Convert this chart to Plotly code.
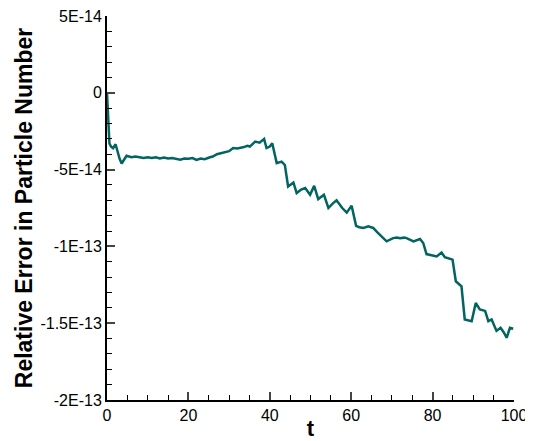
import plotly.graph_objects as go

t = [0, 0.3, 0.6, 1.0, 1.5, 2.1, 2.6, 3.1, 3.6, 4.2, 4.8, 6, 7, 8, 9, 10, 11, 12, 13, 14, 15, 16, 17, 18,
     19, 20, 21, 22, 23, 24, 25.3, 26, 27, 28, 29, 30, 31, 32, 33.4, 34.5, 35.1, 36.4, 37.5, 38.6, 39.2,
     40.0, 40.6, 41.7, 42.9, 43.7, 44.5, 45.8, 46.6, 47.7, 48.7, 49.9, 50.9, 51.9, 53.3, 54.4, 55.5,
     56.4, 57.8, 58.9, 60.1, 61.2, 62.0, 63, 64.2, 65.4, 66.5, 67.5, 68.7, 70.3, 71.2, 72.0, 73.0, 73.6,
     74.5, 75.3, 76.9, 77.7, 78.5, 80.0, 81, 82.2, 83, 84.9, 85.7, 87.1, 87.9, 89.6, 90.6, 91.6, 92.9,
     93.7, 94.5, 95.7, 96.7, 97.5, 98.2, 99, 99.8]
err = [0, -2.0, -3.3, -3.5, -3.6, -3.35, -3.9, -4.3, -4.6, -4.3, -4.1, -4.2, -4.15, -4.2, -4.25, -4.2,
       -4.25, -4.2, -4.27, -4.22, -4.28, -4.25, -4.32, -4.35, -4.28, -4.3, -4.25, -4.37, -4.28, -4.32,
       -4.2, -4.15, -4.0, -3.95, -3.85, -3.8, -3.6, -3.62, -3.55, -3.45, -3.5, -3.18, -3.25, -3.0,
       -3.6, -3.5, -3.29, -4.58, -4.48, -4.7, -6.1, -5.84, -6.53, -6.3, -6.2, -6.64, -6.06, -6.92, -6.64,
       -7.5, -7.2, -7.0, -7.5, -7.8, -7.36, -8.66, -8.75, -8.8, -8.7, -8.8, -9.1, -9.35, -9.67, -9.46,
       -9.42, -9.47, -9.43, -9.46, -9.6, -9.67, -9.52, -9.78, -10.5, -10.6, -10.65, -10.4, -10.7,
       -10.86, -12.27, -12.6, -14.76, -14.87, -13.68, -14.1, -14.2, -14.87, -14.76, -15.5, -15.3,
       -15.6, -15.95, -15.3, -15.36]
err = [v * 1e-14 for v in err]

ytick_vals = [5e-14, 0, -5e-14, -1e-13, -1.5e-13, -2e-13]
ytick_text = ["5E-14", "0", "-5E-14", "-1E-13", "-1.5E-13", "-2E-13"]
xtick_vals = [0, 20, 40, 60, 80, 100]

fig = go.Figure()
fig.add_trace(go.Scatter(x=t, y=err, mode="lines",
                         line=dict(color="#006461", width=2.5), showlegend=False))

font = "Liberation Sans, Arial, sans-serif"
# page body has an 8px default margin: figure is sized to fit inside the window
fig.update_layout(
    width=525, height=433,
    margin=dict(l=99, r=19, t=8, b=41),
    paper_bgcolor="white", plot_bgcolor="white",
    font=dict(family=font, size=16, color="black"),
    xaxis=dict(range=[0, 100], tickvals=xtick_vals, ticks="inside", ticklen=8, tickwidth=2,
               showline=True, linecolor="black", linewidth=2, showgrid=False, zeroline=False,
               automargin=False, ticklabeloverflow="allow",
               minor=dict(ticks="inside", ticklen=5, tickwidth=1, dtick=5, tickcolor="black"),
               title=dict(text="<b>t</b>", font=dict(size=22), standoff=0),
               tickfont=dict(size=16)),
    yaxis=dict(range=[-2e-13, 5e-14], tickvals=ytick_vals, ticktext=ytick_text,
               ticks="inside", ticklen=8, tickwidth=2,
               showline=True, linecolor="black", linewidth=2, showgrid=False, zeroline=False,
               automargin=False, ticklabeloverflow="allow",
               minor=dict(ticks="inside", ticklen=5, tickwidth=1, dtick=1e-14, tickcolor="black"),
               title=dict(text="<b>Relative Error in Particle Number</b>", font=dict(size=23), standoff=1),
               tickfont=dict(size=16)),
)
fig.write_html("out.html")
